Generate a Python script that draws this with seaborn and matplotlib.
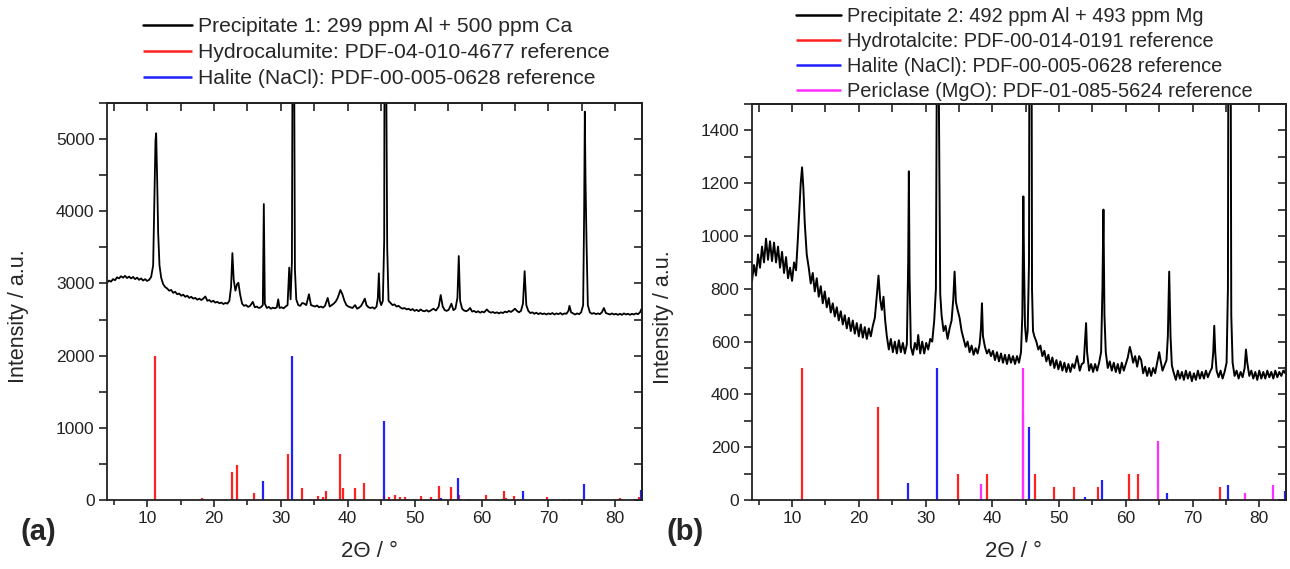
import matplotlib
matplotlib.use("Agg")
import matplotlib.pyplot as plt
from matplotlib.ticker import MultipleLocator
import seaborn as sns

# ---- (a) Precipitate 1: 299 ppm Al + 500 ppm Ca ----
tt1 = [
    4.0, 4.3, 4.6, 4.9, 5.2, 5.5, 5.8, 6.1, 6.4, 6.7,
    7.0, 7.3, 7.6, 7.9, 8.2, 8.5, 8.8, 9.1, 9.4, 9.7,
    10.0, 10.3, 10.6, 10.9, 11.1, 11.25, 11.35, 11.5, 11.65, 11.85,
    12.1, 12.4, 12.7, 13.0, 13.3, 13.6, 13.9, 14.2, 14.5, 14.8,
    15.1, 15.4, 15.7, 16.0, 16.3, 16.6, 16.9, 17.2, 17.5, 17.8,
    18.1, 18.4, 18.7, 19.0, 19.3, 19.6, 19.9, 20.2, 20.5, 20.8,
    21.1, 21.4, 21.7, 22.0, 22.3, 22.55, 22.75, 22.95, 23.2, 23.45,
    23.65, 23.9, 24.2, 24.5, 24.8, 25.1, 25.4, 25.8, 26.1, 26.4,
    26.7, 27.0, 27.3, 27.45, 27.6, 27.9, 28.2, 28.5, 28.8, 29.1,
    29.4, 29.6, 29.8, 30.1, 30.4, 30.7, 31.0, 31.25, 31.45, 31.65,
    31.8, 31.95, 32.1, 32.3, 32.6, 32.9, 33.2, 33.5, 33.8, 34.2,
    34.5, 34.8, 35.1, 35.4, 35.7, 36.0, 36.3, 36.6, 37.0, 37.3,
    37.6, 37.9, 38.2, 38.5, 38.9, 39.2, 39.5, 39.8, 40.1, 40.4,
    40.7, 41.1, 41.4, 41.7, 42.0, 42.3, 42.55, 42.8, 43.1, 43.4,
    43.7, 44.0, 44.3, 44.5, 44.65, 44.8, 45.0, 45.25, 45.45, 45.6,
    45.75, 45.9, 46.1, 46.4, 46.7, 47.0, 47.3, 47.6, 47.9, 48.2,
    48.5, 48.8, 49.1, 49.4, 49.7, 50.0, 50.3, 50.6, 50.9, 51.2,
    51.5, 51.8, 52.1, 52.4, 52.8, 53.2, 53.6, 53.9, 54.2, 54.5,
    54.8, 55.1, 55.5, 55.8, 56.1, 56.4, 56.6, 56.8, 57.1, 57.4,
    57.7, 58.0, 58.3, 58.6, 58.9, 59.2, 59.5, 59.8, 60.1, 60.4,
    60.8, 61.1, 61.4, 61.7, 62.0, 62.3, 62.6, 62.9, 63.2, 63.5,
    63.8, 64.1, 64.4, 64.7, 65.0, 65.3, 65.6, 65.9, 66.2, 66.45,
    66.7, 67.0, 67.3, 67.6, 67.9, 68.2, 68.5, 68.8, 69.1, 69.4,
    69.7, 70.0, 70.3, 70.6, 70.9, 71.2, 71.5, 71.8, 72.1, 72.4,
    72.7, 73.0, 73.15, 73.4, 73.7, 74.0, 74.3, 74.6, 74.9, 75.2,
    75.35, 75.45, 75.55, 75.7, 75.9, 76.2, 76.5, 76.8, 77.1, 77.4,
    77.7, 78.0, 78.3, 78.6, 78.9, 79.2, 79.5, 79.8, 80.1, 80.4,
    80.7, 81.0, 81.3, 81.6, 81.9, 82.2, 82.5, 82.8, 83.1, 83.4,
    83.7, 84.0,
]
int1 = [
    3010, 3040, 3025, 3060, 3045, 3085, 3070, 3100, 3080, 3105,
    3075, 3095, 3070, 3090, 3060, 3080, 3050, 3070, 3040, 3060,
    3035, 3050, 3090, 3250, 4200, 4980, 5080, 4450, 3700, 3250,
    3080, 2990, 2950, 2930, 2900, 2910, 2870, 2885, 2850, 2860,
    2830, 2845, 2815, 2830, 2800, 2815, 2790, 2800, 2775, 2790,
    2770, 2790, 2820, 2760, 2770, 2745, 2760, 2735, 2745, 2725,
    2735, 2715, 2730, 2720, 2760, 2950, 3420, 3050, 2900, 2990,
    3010, 2850, 2720, 2690, 2700, 2675, 2690, 2745, 2670, 2680,
    2660, 2670, 2700, 4100, 2720, 2660, 2675, 2650, 2665, 2655,
    2670, 2780, 2660, 2670, 2655, 2680, 2700, 3220, 2780, 3300,
    8000, 7000, 3200, 2780, 2700, 2690, 2730, 2720, 2700, 2850,
    2700, 2690, 2680, 2695, 2670, 2680, 2665, 2690, 2800, 2680,
    2700, 2720, 2750, 2800, 2910, 2850, 2760, 2700, 2680, 2670,
    2660, 2700, 2650, 2665, 2690, 2740, 2790, 2700, 2670, 2660,
    2670, 2650, 2680, 2800, 3140, 2760, 2700, 2760, 3600, 12000,
    6000, 3500, 2760, 2730, 2700, 2710, 2680, 2690, 2665, 2650,
    2660, 2640, 2650, 2630, 2645, 2620, 2635, 2615, 2640, 2620,
    2615, 2630, 2610, 2625, 2650, 2625, 2680, 2840, 2680, 2630,
    2620, 2635, 2720, 2630, 2650, 2800, 3380, 2760, 2650, 2625,
    2615, 2630, 2660, 2610, 2620, 2600, 2615, 2595, 2610, 2600,
    2640, 2610, 2595, 2605, 2590, 2600, 2585, 2600, 2590, 2610,
    2600, 2620, 2605, 2625, 2650, 2620, 2600, 2620, 2720, 3170,
    2700, 2620, 2590, 2600, 2580, 2595, 2575, 2590, 2575, 2585,
    2570, 2585, 2575, 2590, 2570, 2585, 2575, 2590, 2570, 2585,
    2580, 2620, 2690, 2600, 2585, 2570, 2585, 2575, 2600, 2700,
    4000, 5380, 4450, 3600, 2700, 2600, 2580, 2590, 2575, 2585,
    2575, 2600, 2660, 2590, 2580, 2570, 2585, 2570, 2580, 2565,
    2580, 2565, 2585, 2570, 2580, 2565, 2580, 2570, 2585, 2575,
    2600, 2660,
]

hc_pos = [11.24, 18.2, 22.7, 23.5, 26.0, 31.1, 33.2, 34.3, 35.5, 36.3,
          36.8, 38.8, 39.3, 41.1, 42.5, 45.4, 46.2, 47.0, 47.85, 48.5,
          49.0, 51.0, 52.4, 53.6, 55.4, 56.7, 58.2, 60.6, 63.3, 63.7,
          64.9, 69.85, 72.3, 80.7, 83.5]
hc_int = [2000, 28, 390, 480, 93, 637, 163, 20, 55, 45,
          130, 640, 163, 163, 235, 50, 45, 70, 35, 35,
          15, 60, 40, 200, 185, 70, 20, 70, 125, 30,
          55, 40, 20, 25, 40]

hal_pos = [27.37, 31.7, 45.45, 53.87, 56.48, 66.24, 73.07, 75.3, 83.9]
hal_int_a = [260, 2000, 1100, 30, 300, 120, 10, 220, 140]

# ---- (b) Precipitate 2: 492 ppm Al + 493 ppm Mg ----
tt2 = [
    4.0, 4.3, 4.6, 4.9, 5.2, 5.5, 5.8, 6.1, 6.4, 6.7,
    7.0, 7.3, 7.6, 7.9, 8.2, 8.5, 8.8, 9.1, 9.4, 9.7,
    10.0, 10.3, 10.6, 10.85, 11.1, 11.3, 11.5, 11.7, 11.9, 12.2,
    12.5, 12.8, 13.1, 13.4, 13.7, 14.0, 14.3, 14.6, 14.9, 15.2,
    15.5, 15.8, 16.1, 16.4, 16.7, 17.0, 17.3, 17.6, 17.9, 18.2,
    18.5, 18.8, 19.1, 19.4, 19.7, 20.0, 20.3, 20.6, 20.9, 21.2,
    21.5, 21.8, 22.1, 22.4, 22.65, 22.95, 23.2, 23.45, 23.7, 23.95,
    24.2, 24.5, 24.8, 25.1, 25.4, 25.7, 26.0, 26.3, 26.6, 26.9,
    27.2, 27.4, 27.5, 27.6, 27.8, 28.1, 28.4, 28.7, 28.9, 29.2,
    29.5, 29.8, 30.1, 30.4, 30.7, 31.0, 31.3, 31.55, 31.75, 31.85,
    32.0, 32.2, 32.4, 32.7, 33.0, 33.3, 33.6, 33.9, 34.15, 34.35,
    34.55, 34.8, 35.1, 35.4, 35.7, 36.0, 36.3, 36.6, 36.9, 37.2,
    37.5, 37.8, 38.1, 38.3, 38.45, 38.6, 38.9, 39.2, 39.5, 39.8,
    40.1, 40.4, 40.7, 41.0, 41.3, 41.6, 41.9, 42.2, 42.5, 42.8,
    43.1, 43.4, 43.7, 44.0, 44.3, 44.5, 44.65, 44.75, 44.9, 45.1,
    45.3, 45.5, 45.65, 45.8, 45.95, 46.1, 46.3, 46.6, 46.9, 47.2,
    47.5, 47.8, 48.1, 48.4, 48.7, 49.0, 49.3, 49.6, 49.9, 50.2,
    50.5, 50.8, 51.1, 51.4, 51.7, 52.0, 52.3, 52.7, 53.1, 53.4,
    53.7, 53.9, 54.05, 54.2, 54.5, 54.8, 55.1, 55.4, 55.7, 56.0,
    56.3, 56.5, 56.65, 56.8, 57.0, 57.3, 57.6, 57.9, 58.2, 58.5,
    58.8, 59.1, 59.4, 59.7, 60.0, 60.3, 60.6, 60.8, 61.1, 61.4,
    61.7, 62.0, 62.3, 62.6, 62.9, 63.2, 63.5, 63.8, 64.1, 64.4,
    64.7, 65.0, 65.2, 65.5, 65.8, 66.1, 66.3, 66.5, 66.7, 66.9,
    67.2, 67.5, 67.8, 68.1, 68.4, 68.7, 69.0, 69.3, 69.6, 69.9,
    70.2, 70.5, 70.8, 71.1, 71.4, 71.7, 72.0, 72.3, 72.6, 72.9,
    73.1, 73.25, 73.4, 73.6, 73.9, 74.2, 74.5, 74.8, 75.1, 75.3,
    75.45, 75.6, 75.8, 76.0, 76.3, 76.6, 76.9, 77.2, 77.5, 77.8,
    78.0, 78.2, 78.5, 78.8, 79.1, 79.4, 79.7, 80.0, 80.3, 80.6,
    80.9, 81.2, 81.5, 81.8, 82.1, 82.4, 82.7, 83.0, 83.3, 83.6,
    83.9, 84.0,
]
int2 = [
    830, 890, 850, 930, 880, 960, 900, 990, 910, 980,
    905, 975, 900, 960, 880, 940, 860, 920, 840, 880,
    830, 900, 870, 980, 1100, 1200, 1260, 1180, 1050, 930,
    880, 820, 860, 790, 840, 770, 810, 745, 790, 730,
    765, 710, 745, 695, 730, 680, 715, 665, 700, 650,
    690, 640, 680, 630, 670, 620, 665, 615, 655, 610,
    650, 620, 660, 690, 760, 850, 760, 720, 770, 680,
    620, 570, 610, 560, 600, 555, 605, 560, 595, 555,
    590, 900, 1245, 850, 580, 550, 595, 570, 625, 555,
    600, 555, 595, 570, 610, 600, 680, 800, 2000, 3000,
    1500, 780, 700, 640, 660, 610, 650, 680, 760, 865,
    750, 720, 690, 640, 610, 580, 600, 560, 585, 550,
    575, 555, 590, 650, 745, 620, 580, 555, 570, 545,
    565, 530, 560, 525, 555, 520, 550, 515, 550, 520,
    545, 515, 545, 520, 560, 700, 1150, 900, 660, 600,
    640, 900, 3000, 3000, 800, 640, 620, 600, 570, 585,
    545, 565, 525, 550, 510, 540, 500, 530, 495, 525,
    490, 520, 485, 515, 485, 515, 500, 545, 490, 515,
    520, 610, 670, 560, 490, 515, 485, 515, 490, 520,
    560, 800, 1100, 700, 560, 500, 525, 490, 520, 485,
    515, 480, 520, 490, 515, 540, 580, 560, 520, 545,
    505, 545, 530, 480, 505, 470, 500, 470, 500, 480,
    520, 560, 530, 490, 510, 530, 620, 865, 620, 510,
    480, 455, 490, 460, 485, 455, 490, 460, 485, 450,
    480, 455, 490, 460, 485, 460, 490, 465, 485, 500,
    560, 660, 560, 490, 465, 490, 460, 485, 520, 800,
    3000, 3000, 700, 520, 470, 490, 460, 485, 465, 500,
    570, 520, 470, 490, 460, 485, 455, 490, 460, 485,
    460, 490, 465, 485, 460, 490, 465, 485, 470, 490,
    480, 510,
]

ht_pos = [11.53, 22.9, 34.8, 39.2, 46.4, 49.3, 52.3, 55.8, 60.5, 61.9, 74.1]
ht_int = [500, 352, 100, 100, 100, 50, 50, 50, 100, 100, 50]

hal_int_b = [65, 500, 275, 10, 75, 28, 5, 55, 35]

mgo_pos = [38.35, 44.55, 44.65, 64.8, 77.85, 82.1]
mgo_int = [60, 500, 330, 225, 25, 55]

# ---- style ----
sns.set_theme(style="ticks")
plt.rcParams["font.family"] = ["Liberation Sans", "DejaVu Sans"]
plt.rcParams["axes.linewidth"] = 1.3
plt.rcParams["axes.edgecolor"] = "#222222"
plt.rcParams["xtick.color"] = "#222222"
plt.rcParams["ytick.color"] = "#222222"

RED = "#ff2020"
BLUE = "#2020ff"
MAGENTA = "#ff30ff"

fig = plt.figure(figsize=(12.9, 5.69), dpi=100)
ax_a = fig.add_axes([107 / 1290, 69 / 569, 535 / 1290, 397 / 569])
ax_b = fig.add_axes([752 / 1290, 69 / 569, 534 / 1290, 396 / 569])


def style_axes(ax, ymax, ymajor, yminor):
    ax.set_xlim(4, 84)
    ax.set_ylim(0, ymax)
    ax.xaxis.set_major_locator(MultipleLocator(10))
    ax.xaxis.set_minor_locator(MultipleLocator(5))
    ax.yaxis.set_major_locator(MultipleLocator(ymajor))
    ax.yaxis.set_minor_locator(MultipleLocator(yminor))
    ax.tick_params(which="both", direction="out", width=1.2, labelsize=12.5,
                   top=False, right=False)
    ax.tick_params(axis="x", which="major", length=5, pad=3)
    ax.tick_params(axis="x", which="minor", length=3.5)
    ax.tick_params(axis="y", which="both", length=6, pad=3)
    # inward ticks on the mirror axes
    top = ax.secondary_xaxis("top")
    top.xaxis.set_major_locator(MultipleLocator(10))
    top.xaxis.set_minor_locator(MultipleLocator(5))
    top.tick_params(which="both", direction="in", width=1.2, labeltop=False,
                    length=6)
    right = ax.secondary_yaxis("right")
    right.yaxis.set_major_locator(MultipleLocator(ymajor))
    right.yaxis.set_minor_locator(MultipleLocator(yminor))
    right.tick_params(which="both", direction="in", width=1.2,
                      labelright=False, length=6)
    ax.set_xlabel("2Θ / °", fontsize=16)
    ax.set_ylabel("Intensity / a.u.", fontsize=15.5)
    ax.xaxis.set_label_coords(0.49, -0.103)
    ax.yaxis.set_label_coords(-0.146, 0.463)


# panel (a)
sns.lineplot(x=tt1, y=int1, ax=ax_a, color="black", lw=1.3,
             label="Precipitate 1: 299 ppm Al + 500 ppm Ca")
ax_a.vlines(hc_pos, 0, hc_int, color=RED, lw=1.6,
            label="Hydrocalumite: PDF-04-010-4677 reference")
ax_a.vlines(hal_pos, 0, hal_int_a, color=BLUE, lw=1.6,
            label="Halite (NaCl): PDF-00-005-0628 reference")
style_axes(ax_a, 5500, 1000, 500)

# panel (b)
sns.lineplot(x=tt2, y=int2, ax=ax_b, color="black", lw=1.4,
             label="Precipitate 2: 492 ppm Al + 493 ppm Mg")
ax_b.vlines(ht_pos, 0, ht_int, color=RED, lw=1.6,
            label="Hydrotalcite: PDF-00-014-0191 reference")
ax_b.vlines(hal_pos, 0, hal_int_b, color=BLUE, lw=1.6,
            label="Halite (NaCl): PDF-00-005-0628 reference")
ax_b.vlines(mgo_pos, 0, mgo_int, color=MAGENTA, lw=1.6,
            label="Periclase (MgO): PDF-01-085-5624 reference")
style_axes(ax_b, 1500, 200, 100)

legend_spec = [
    # axes, left px, top px, font size, row spacing, handle length
    (ax_a, 143, 17, 15.2, 0.33, 2.3),
    (ax_b, 796, 7, 14.4, 0.30, 2.25),
]
for ax, x0, y0, fs, sp, hl in legend_spec:
    h, l = ax.get_legend_handles_labels()
    leg = ax.legend(h, l, loc="upper left",
                    bbox_to_anchor=(x0 / 1290, 1 - y0 / 569),
                    bbox_transform=fig.transFigure, frameon=False,
                    fontsize=fs, handlelength=hl, handletextpad=0.3,
                    labelspacing=sp, borderpad=0, borderaxespad=0)
    for line in leg.get_lines():
        line.set_linewidth(1.8)

fig.text(38 / 1290, 1 - 532 / 569, "(a)", fontsize=21, fontweight="bold",
         ha="center", va="center")
fig.text(685 / 1290, 1 - 532 / 569, "(b)", fontsize=21, fontweight="bold",
         ha="center", va="center")

fig.savefig("out.png", dpi=100)
